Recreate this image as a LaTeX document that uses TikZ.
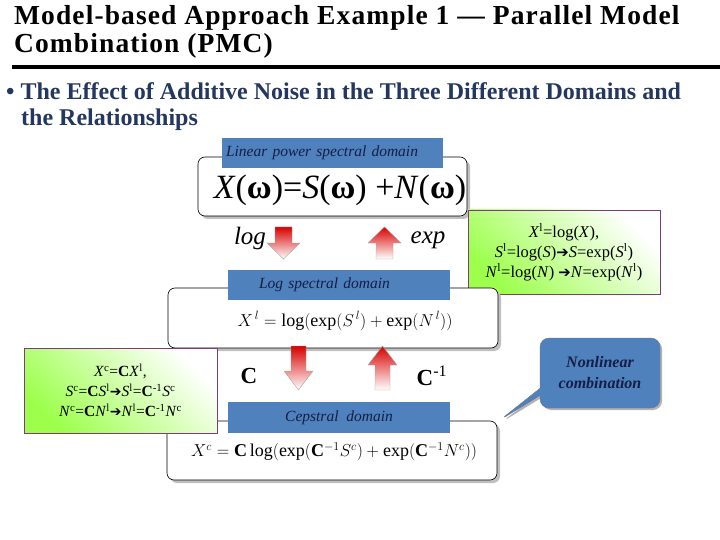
\documentclass[tikz,border=0pt]{standalone}
\usepackage{fontspec}
\setmainfont{Liberation Serif}
\newfontfamily\djv{DejaVu Sans}
\newfontfamily\ttl[LetterSpace=4]{Liberation Serif}
\newcommand{\ra}{{\djv\scalebox{0.9}{➔}}}
\usetikzlibrary{shapes.callouts,shadows}
\definecolor{lblue}{RGB}{79,129,189}
\definecolor{navy}{RGB}{20,30,70}
\definecolor{bnavy}{RGB}{35,55,95}
\definecolor{gb}{RGB}{128,60,120}
\begin{document}
\begin{tikzpicture}[x=1pt,y=-1pt,
  dom/.style={draw=black,rounded corners=7pt,fill=white,drop shadow={shadow xshift=3pt,shadow yshift=-3pt,fill=black!25,opacity=1},line width=0.6pt},
  lab/.style={fill=lblue,inner sep=0pt,text=navy,font=\itshape\fontsize{15.5}{17}\selectfont},
  green/.style={draw=gb,line width=0.8pt,left color=green!55!yellow!70,right color=white,shading angle=135,align=center,inner sep=1pt,font=\fontsize{16.5}{20}\selectfont},
  dn/.style={draw=gray!70,top color=red!85!black,bottom color=white},
  up/.style={draw=gray!70,top color=red!85!black,bottom color=white}]
\useasboundingbox (0,0) rectangle (720,540);
\node[anchor=west,font=\ttl\bfseries\fontsize{27.5}{30}\selectfont,inner sep=0pt] (t1) at (14,18) {Model-based Approach Example 1 — Parallel Model};
\node[anchor=west,font=\ttl\bfseries\fontsize{27.5}{30}\selectfont,inner sep=0pt] (t2) at (14,46) {Combination (PMC)};
\draw[line width=4pt] (12,67) -- (720,67);
\node[anchor=west,font=\bfseries\fontsize{24}{26}\selectfont,text=bnavy,inner sep=0pt] (b1) at (6,91) {• The Effect of Additive Noise in the Three Different Domains and};
\node[anchor=west,font=\bfseries\fontsize{24}{26}\selectfont,text=bnavy,inner sep=0pt] (b2) at (21,120) {the Relationships};
% box1
\path[dom] (198,157) rectangle (467,216);
\node[lab,minimum width=221pt,minimum height=30pt,text width=213pt] (l1) at (332.5,153) {Linear power spectral domain};
\node[font=\fontsize{34}{36}\selectfont] (f1) at (340,190) {\textit{X}(\textbf{ω})=\textit{S}(\textbf{ω}) +\textit{N}(\textbf{ω})};
% arrows 1
\path[dn] (275,227) -- (292,227) -- (292,243) -- (300,243) -- (283.5,259) -- (267,243) -- (275,243) -- cycle;
\node[font=\itshape\fontsize{25}{26}\selectfont] (log) at (250,238) {log};
\path[up] (376,259) -- (393,259) -- (393,243) -- (401,243) -- (384.5,227) -- (368,243) -- (376,243) -- cycle;
\node[font=\itshape\fontsize{25}{26}\selectfont] (exp) at (428,240) {exp};
% green 1
\node[green,minimum width=192pt,minimum height=84pt] (g1) at (564,252) {\textit{X}\textsuperscript{l}=log(\textit{X}),\\ \textit{S}\textsuperscript{l}=log(\textit{S})\ra\textit{S}=exp(\textit{S}\textsuperscript{l})\\ \textit{N}\textsuperscript{l}=log(\textit{N}) \ra\textit{N}=exp(\textit{N}\textsuperscript{l})};
% box2
\path[dom] (168,288) rectangle (498,348);
\node[lab,minimum width=222pt,minimum height=30pt,text width=200pt] (l2) at (339,285) {\hspace{20pt}Log spectral domain};
\node[font=\fontsize{18}{22}\selectfont] (f2) at (345,321) {$X^{\,l} = \log\Bigl(\exp\bigl(S^{\,l}\bigr)+\exp\bigl(N^{\,l}\bigr)\Bigr)$};
% arrows 2
\path[dn] (291,346) -- (306,346) -- (306,371) -- (313,371) -- (298.5,390) -- (284,371) -- (291,371) -- cycle;
\node[font=\bfseries\fontsize{23}{24}\selectfont] (c) at (249,376) {C};
\path[up] (375,390) -- (390,390) -- (390,365) -- (397,365) -- (382.5,346) -- (368,365) -- (375,365) -- cycle;
\node[font=\bfseries\fontsize{23}{24}\selectfont] (ci) at (432,376) {C\textsuperscript{\mdseries -1}};
% box3
\path[dom] (167,421) rectangle (497,480);
\node[lab,minimum width=222pt,minimum height=31pt] (l3) at (339,417.5) {Cepstral\ \ domain};
\node[font=\fontsize{18}{22}\selectfont] (f3) at (334,452) {$X^{c} = \mathbf{C}\log\Bigl(\exp\bigl(\mathbf{C}^{-1}S^{c}\bigr)+\exp\bigl(\mathbf{C}^{-1}N^{c}\bigr)\Bigr)$};
% green 2
\node[green,minimum width=193pt,minimum height=85pt,font=\fontsize{15.5}{20}\selectfont] (g2) at (120.5,390.5) {\textit{X}\textsuperscript{c}=\textbf{C}\textit{X}\textsuperscript{l},\\ \textit{S}\textsuperscript{c}=\textbf{C}\textit{S}\textsuperscript{l}\ra\textit{S}\textsuperscript{l}=\textbf{C}\textsuperscript{-1}\textit{S}\textsuperscript{c}\\ \textit{N}\textsuperscript{c}=\textbf{C}\textit{N}\textsuperscript{l}\ra\textit{N}\textsuperscript{l}=\textbf{C}\textsuperscript{-1}\textit{N}\textsuperscript{c}};
% callout
\node[rectangle callout,rounded corners=9pt,fill=lblue,draw=navy!60,minimum width=120pt,minimum height=70pt,align=center,
 callout absolute pointer={(500,420)},text=navy,font=\bfseries\itshape\fontsize{16}{21}\selectfont,
 drop shadow={shadow xshift=2pt,shadow yshift=-2pt,fill=black!30,opacity=1}] (nc) at (600,373) {Nonlinear\\combination};
\end{tikzpicture}
\end{document}
